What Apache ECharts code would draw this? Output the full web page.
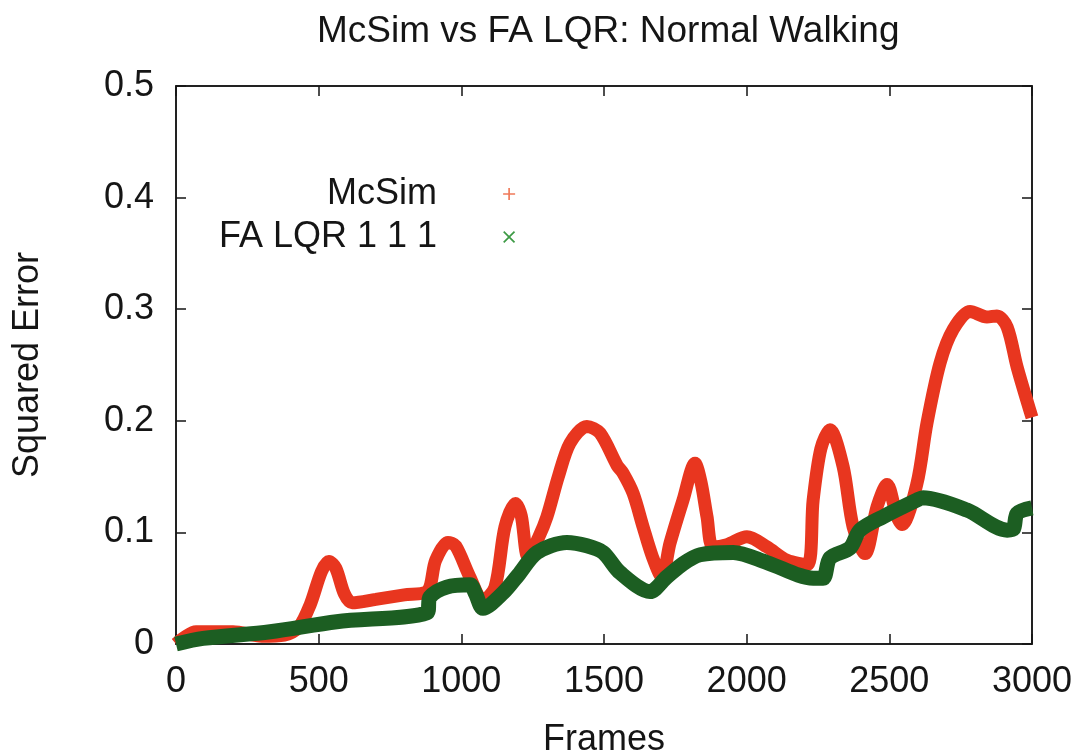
<!DOCTYPE html>
<html>
<head>
<meta charset="utf-8">
<script src="https://cdn.jsdelivr.net/npm/echarts@6/dist/echarts.min.js"></script>
<style>
  html, body { margin: 0; padding: 0; background: #fff; }
  #main { width: 1082px; height: 754px; }
</style>
</head>
<body>
<div id="main"></div>
<script>
// McSim curve (frame, squared error)
var mcsimFrames = [0, 30, 70, 200, 300, 380, 430, 470, 510, 536, 560, 590, 617, 700, 800, 880, 910, 953, 980, 1030,
  1076, 1118, 1153, 1190, 1210, 1234, 1270, 1300, 1340, 1381, 1440, 1486, 1546, 1567, 1602, 1637, 1670, 1703, 1731, 1777,
  1819, 1840, 1861, 1882, 1931, 2001, 2071, 2141, 2212, 2233, 2260, 2292, 2338, 2373, 2415, 2457, 2492, 2527, 2545, 2597,
  2632, 2678, 2724, 2783, 2842, 2877, 2913, 2948, 3000];
var mcsimValues = [0.0, 0.006, 0.011, 0.011, 0.007, 0.008, 0.015, 0.035, 0.065, 0.074, 0.068, 0.045, 0.037, 0.040, 0.044, 0.047, 0.075, 0.091, 0.088, 0.060,
  0.039, 0.051, 0.105, 0.126, 0.115, 0.078, 0.095, 0.114, 0.150, 0.180, 0.195, 0.189, 0.160, 0.153, 0.135, 0.105, 0.078, 0.060, 0.090, 0.129,
  0.162, 0.145, 0.114, 0.087, 0.089, 0.096, 0.087, 0.075, 0.071, 0.129, 0.175, 0.192, 0.159, 0.105, 0.081, 0.123, 0.143, 0.114, 0.107, 0.144,
  0.198, 0.252, 0.282, 0.298, 0.293, 0.294, 0.284, 0.248, 0.203];

// FA LQR 1 1 1 curve
var lqrFrames = [0, 95, 330, 563, 880, 890, 949, 1030, 1050, 1076, 1147, 1200, 1265, 1370, 1440, 1497, 1556, 1661, 1720, 1777,
  1837, 1953, 2071, 2233, 2268, 2292, 2362, 2397, 2478, 2597, 2618, 2772, 2913, 2935, 2948, 3000];
var lqrValues = [0.0, 0.005, 0.011, 0.020, 0.028, 0.042, 0.051, 0.053, 0.045, 0.032, 0.046, 0.062, 0.082, 0.091, 0.088, 0.082, 0.064, 0.047, 0.060, 0.072,
  0.080, 0.082, 0.073, 0.059, 0.059, 0.077, 0.086, 0.102, 0.114, 0.129, 0.131, 0.120, 0.102, 0.103, 0.117, 0.122];

var seriesNames = ['McSim', 'FA LQR 1 1 1'];
var xTicks = [0, 500, 1000, 1500, 2000, 2500, 3000];
var yTicks = [0, 0.1, 0.2, 0.3, 0.4, 0.5];

function pairs(xs, ys) {
  return xs.map(function (x, i) { return [x, ys[i]]; });
}

var FONT = '"Liberation Sans", Arial, sans-serif';
var INK = '#151515';
var plusIcon = 'path://M4.3,0H5.7V4.3H10V5.7H5.7V10H4.3V5.7H0V4.3H4.3Z';
var crossIcon = 'path://M1,0L5,4L9,0L10,1L6,5L10,9L9,10L5,6L1,10L0,9L4,5L0,1Z';

// frame axes: ticks inside on all four sides, like the gnuplot border
function frameAxis(extra) {
  var base = {
    type: 'value',
    axisLine: { show: true, onZero: false, lineStyle: { color: INK, width: 1.5 } },
    axisTick: { show: true, inside: true, length: 10, lineStyle: { color: INK, width: 1.5 } },
    splitLine: { show: false }
  };
  return Object.assign(base, extra);
}

var chart = echarts.init(document.getElementById('main'));
chart.setOption({
  backgroundColor: '#fff',
  animation: false,
  title: {
    text: 'McSim vs FA LQR: Normal Walking',
    left: 312,
    top: 8,
    textStyle: { fontFamily: FONT, fontSize: 37, fontWeight: 'normal', color: INK }
  },
  legend: {
    orient: 'vertical',
    left: 214,
    top: 171,
    align: 'right',
    itemWidth: 12,
    itemHeight: 12,
    itemGap: 7,
    data: [
      { name: seriesNames[0], icon: plusIcon, itemStyle: { color: '#f07a5a' } },
      { name: seriesNames[1], icon: crossIcon, itemStyle: { color: '#3d9a45' } }
    ],
    formatter: function (n) { return '{a|' + n + '}{gap|}'; },
    textStyle: {
      rich: {
        a: { fontFamily: FONT, fontSize: 36, color: INK, width: 222, align: 'right' },
        gap: { width: 61 }
      }
    }
  },
  grid: { left: 176, right: 50, top: 86, bottom: 110, show: true, borderColor: INK, borderWidth: 1.5,
    outerBoundsMode: 'none', containLabel: false },
  xAxis: [frameAxis({
    min: 0, max: 3000, interval: 500, position: 'bottom',
    name: 'Frames', nameLocation: 'middle', nameGap: 78,
    nameTextStyle: { fontFamily: FONT, fontSize: 36, color: INK },
    axisLabel: { fontFamily: FONT, fontSize: 36, color: INK, margin: 20,
      formatter: function (v) { return xTicks.indexOf(v) >= 0 ? String(v) : ''; } }
  }), frameAxis({
    min: 0, max: 3000, interval: 500, position: 'top',
    axisLabel: { show: false }
  })],
  yAxis: [frameAxis({
    min: 0, max: 0.5, interval: 0.1, position: 'left',
    name: 'Squared Error', nameLocation: 'middle', nameGap: 130, nameRotate: 90,
    nameTextStyle: { fontFamily: FONT, fontSize: 36, color: INK },
    axisLabel: { fontFamily: FONT, fontSize: 36, color: INK, margin: 22,
      formatter: function (v) {
        var r = Math.round(v * 10) / 10;
        return yTicks.indexOf(r) >= 0 ? String(r) : '';
      } }
  }), frameAxis({
    min: 0, max: 0.5, interval: 0.1, position: 'right',
    axisLabel: { show: false }
  })],
  series: [{
    name: seriesNames[0],
    type: 'line',
    data: pairs(mcsimFrames, mcsimValues),
    smooth: 0.3,
    showSymbol: false,
    lineStyle: { color: '#e8361f', width: 13 },
    itemStyle: { color: '#e8361f' },
    z: 2
  }, {
    name: seriesNames[1],
    type: 'line',
    data: pairs(lqrFrames, lqrValues),
    smooth: 0.3,
    showSymbol: false,
    lineStyle: { color: '#1c5e22', width: 15 },
    itemStyle: { color: '#1c5e22' },
    z: 3
  }]
});
</script>
</body>
</html>
